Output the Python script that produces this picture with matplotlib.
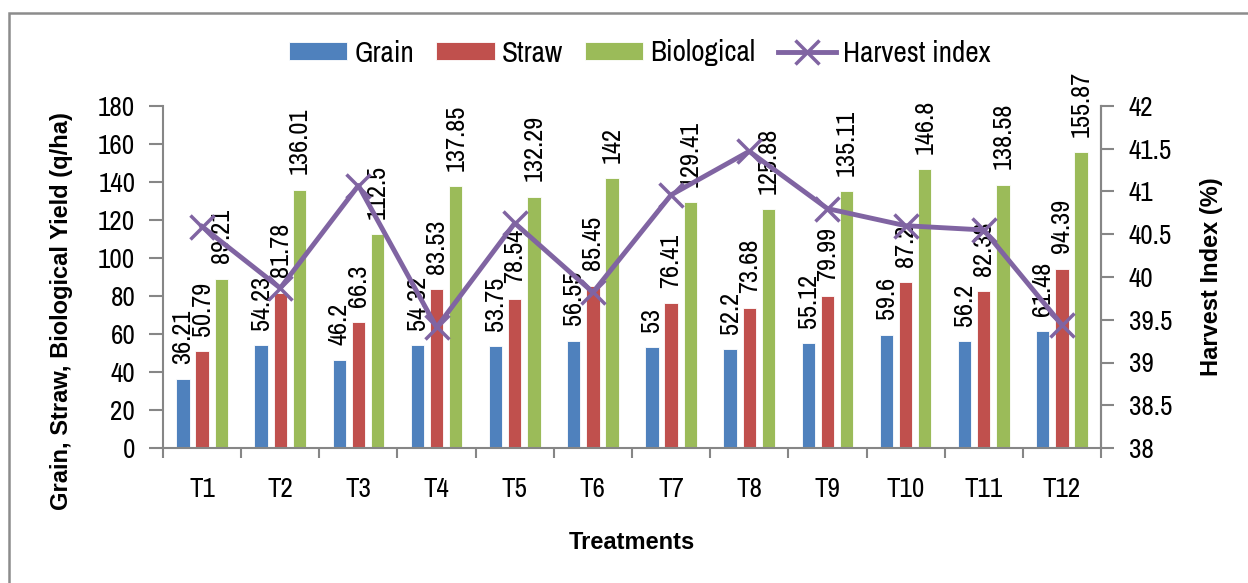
import numpy as np
import matplotlib.pyplot as plt
from matplotlib.patches import Rectangle

treatments = ["T1", "T2", "T3", "T4", "T5", "T6", "T7", "T8", "T9", "T10", "T11", "T12"]
grain = [36.21, 54.23, 46.2, 54.32, 53.75, 56.55, 53, 52.2, 55.12, 59.6, 56.2, 61.48]
straw = [50.79, 81.78, 66.3, 83.53, 78.54, 85.45, 76.41, 73.68, 79.99, 87.2, 82.38, 94.39]
biological = [89.21, 136.01, 112.5, 137.85, 132.29, 142, 129.41, 125.88, 135.11, 146.8, 138.58, 155.87]
harvest_index = [40.59, 39.87, 41.07, 39.41, 40.63, 39.82, 40.96, 41.47, 40.80, 40.60, 40.55, 39.44]

NARROW = ["Archivo Narrow", "DejaVu Sans"]
BOLD = ["Liberation Sans", "DejaVu Sans"]
plt.rcParams["font.family"] = NARROW

c_grain, c_straw, c_bio, c_hi = "#4F81BD", "#C0504D", "#9BBB59", "#8064A2"
axis_col = "#868686"

fig = plt.figure(figsize=(12.48, 5.83), dpi=100)
ax = fig.add_axes([163 / 1248, 135 / 583, 938 / 1248, 342 / 583])

x = np.arange(len(treatments))
w = 0.17
off = 0.245
series = [(grain, c_grain, -off, "Grain"), (straw, c_straw, 0, "Straw"), (biological, c_bio, off, "Biological")]
for vals, col, dx, name in series:
    ax.bar(x + dx, vals, w, color=col, edgecolor="white", linewidth=0.6, label=name, zorder=2)
    for xi, v in zip(x + dx, vals):
        ax.annotate(f"{v:g}", (xi, v), xytext=(0, 11), textcoords="offset points",
                    rotation=90, ha="center", va="bottom", fontsize=19, color="black", zorder=3)

ax.set_xlim(-0.5, len(treatments) - 0.5)
ax.set_ylim(0, 180)
ax.set_yticks(range(0, 181, 20))
ax.set_xticks(x)
ax.set_xticklabels(treatments)
ax.set_xticks(np.arange(-0.5, len(treatments), 1), minor=True)
ax.tick_params(axis="x", which="major", length=0, pad=21, labelsize=19.5)
ax.tick_params(axis="x", which="minor", length=7, width=1.5, color=axis_col, direction="out")
ax.tick_params(axis="y", length=10, width=1.5, color=axis_col, pad=10, labelsize=19.5)

ax.spines["top"].set_visible(False)
for s in ["left", "bottom", "right"]:
    ax.spines[s].set_color(axis_col)
    ax.spines[s].set_linewidth(1.5)

ax2 = ax.twinx()
ax2.plot(x, harvest_index, color=c_hi, linewidth=3.5, marker="x", markersize=17,
         markeredgewidth=2.5, zorder=5, label="Harvest index")
ax2.set_ylim(38, 42)
ax2.set_yticks(np.arange(38, 42.01, 0.5))
ax2.set_yticklabels([f"{t:g}" for t in np.arange(38, 42.01, 0.5)])
ax2.tick_params(axis="y", length=9, width=1.5, color=axis_col, pad=11, labelsize=19.5)
for s in ["top", "left", "bottom"]:
    ax2.spines[s].set_visible(False)
ax2.spines["right"].set_color(axis_col)
ax2.spines["right"].set_linewidth(1.5)

ax.set_ylabel("Grain, Straw, Biological Yield (q/ha)", fontsize=17, fontweight="bold", family=BOLD)
ax.yaxis.set_label_coords(-0.096, 0.40)
ax2.set_ylabel("Harvest Index (%)", fontsize=17, fontweight="bold", family=BOLD)
ax2.yaxis.set_label_coords(1.1055, 0.5)
ax.set_xlabel("Treatments", fontsize=17, fontweight="bold", family=BOLD)
ax.xaxis.set_label_coords(0.5, -0.243)

h1, l1 = ax.get_legend_handles_labels()
h2, l2 = ax2.get_legend_handles_labels()
fig.legend(h1 + h2, l1 + l2, loc="center", bbox_to_anchor=(640 / 1248, 1 - 53 / 583),
           ncol=4, frameon=False, fontsize=21, handlelength=2.0, handleheight=0.55,
           handletextpad=0.25, columnspacing=0.75)

fig.patches.append(Rectangle((9 / 1248, -0.05), 1.2, (583 - 13) / 583 + 0.05,
                             transform=fig.transFigure, fill=False,
                             edgecolor="#8c8c8c", linewidth=1.8, zorder=0))

fig.savefig("out.png", dpi=100)
